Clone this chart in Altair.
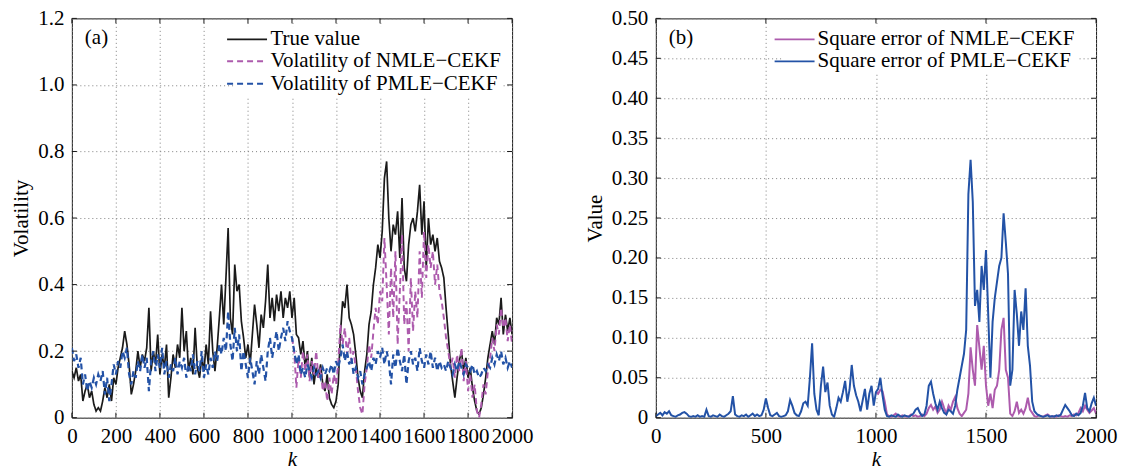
import altair as alt
import pandas as pd

STEP = 10
NMLE_START = 1000

# (a) volatility series, sampled every 10 steps of k
true_value = [
    0.14, 0.12, 0.15, 0.11, 0.13, 0.05, 0.08, 0.10, 0.06, 0.08,
    0.04, 0.02, 0.03, 0.02, 0.05, 0.09, 0.06, 0.10, 0.05, 0.12,
    0.10, 0.15, 0.18, 0.21, 0.26, 0.22, 0.16, 0.07, 0.10, 0.14,
    0.20, 0.15, 0.19, 0.17, 0.21, 0.33, 0.14, 0.20, 0.16, 0.25,
    0.13, 0.19, 0.15, 0.22, 0.06, 0.12, 0.19, 0.15, 0.22, 0.18,
    0.33, 0.20, 0.26, 0.14, 0.18, 0.13, 0.27, 0.15, 0.12, 0.18,
    0.14, 0.22, 0.16, 0.32, 0.20, 0.14, 0.21, 0.30, 0.40, 0.28,
    0.42, 0.57, 0.30, 0.25, 0.46, 0.38, 0.40, 0.29, 0.24, 0.18,
    0.22, 0.16, 0.25, 0.34, 0.28, 0.21, 0.31, 0.27, 0.35, 0.46,
    0.30, 0.36, 0.29, 0.37, 0.32, 0.38, 0.30, 0.36, 0.33, 0.38,
    0.30, 0.36, 0.25, 0.24, 0.19, 0.23, 0.15, 0.20, 0.12, 0.18,
    0.10, 0.15, 0.12, 0.16, 0.10, 0.08, 0.13, 0.06, 0.04, 0.03,
    0.05, 0.10, 0.25, 0.35, 0.33, 0.40, 0.30, 0.28, 0.25, 0.19,
    0.12, 0.08, 0.06, 0.14, 0.19, 0.28, 0.32, 0.40, 0.45, 0.52,
    0.48, 0.56, 0.72, 0.77, 0.60, 0.50, 0.58, 0.55, 0.62, 0.48,
    0.66, 0.45, 0.41, 0.52, 0.58, 0.60, 0.56, 0.62, 0.70, 0.55,
    0.65, 0.45, 0.60, 0.52, 0.55, 0.50, 0.54, 0.47, 0.45, 0.42,
    0.33, 0.25, 0.16, 0.11, 0.06, 0.12, 0.17, 0.20, 0.14, 0.18,
    0.12, 0.15, 0.09, 0.05, 0.02, 0.01, 0.03, 0.07, 0.12, 0.18,
    0.22, 0.26, 0.22, 0.30, 0.28, 0.36, 0.25, 0.31, 0.26, 0.30,
    0.25,
]
pmle_vol = [
    0.21, 0.17, 0.19, 0.15, 0.18, 0.10, 0.13, 0.08, 0.11, 0.09,
    0.12, 0.10, 0.13, 0.11, 0.14, 0.07, 0.12, 0.05, 0.10, 0.16,
    0.13, 0.17, 0.15, 0.20, 0.18, 0.21, 0.13, 0.10, 0.14, 0.12,
    0.17, 0.14, 0.19, 0.15, 0.18, 0.08, 0.17, 0.20, 0.14, 0.19,
    0.15, 0.21, 0.13, 0.17, 0.12, 0.16, 0.14, 0.18, 0.13, 0.17,
    0.15, 0.18, 0.12, 0.16, 0.14, 0.19, 0.13, 0.17, 0.14, 0.20,
    0.12, 0.16, 0.13, 0.18, 0.15, 0.20, 0.17, 0.22, 0.19, 0.24,
    0.20, 0.32, 0.22, 0.17, 0.27, 0.20, 0.25, 0.14, 0.20, 0.16,
    0.12, 0.18, 0.14, 0.10, 0.17, 0.13, 0.19, 0.15, 0.11, 0.20,
    0.24, 0.18, 0.22, 0.26, 0.20, 0.24, 0.27, 0.23, 0.29, 0.26,
    0.24, 0.20, 0.16, 0.19, 0.13, 0.15, 0.12, 0.16, 0.14, 0.12,
    0.15, 0.13, 0.14, 0.12, 0.15, 0.13, 0.15, 0.14, 0.16, 0.13,
    0.17, 0.15, 0.18, 0.22, 0.17, 0.20, 0.16, 0.18, 0.13, 0.15,
    0.12, 0.14, 0.10, 0.13, 0.15, 0.17, 0.14, 0.18, 0.16, 0.20,
    0.18, 0.21, 0.16, 0.20, 0.17, 0.10, 0.19, 0.15, 0.21, 0.17,
    0.14, 0.19, 0.10, 0.17, 0.20, 0.16, 0.18, 0.14, 0.21, 0.17,
    0.15, 0.19, 0.16, 0.20, 0.15, 0.18, 0.14, 0.17, 0.15, 0.16,
    0.14, 0.17, 0.15, 0.13, 0.16, 0.14, 0.17, 0.15, 0.13, 0.16,
    0.15, 0.14, 0.16, 0.13, 0.14, 0.12, 0.13, 0.15, 0.14, 0.16,
    0.15, 0.18, 0.16, 0.19, 0.17, 0.20, 0.16, 0.18, 0.15, 0.17,
    0.15,
]
# NMLE-CEKF volatility, visible from k = 1000
nmle_vol = [
    0.24, 0.20, 0.09, 0.18, 0.12, 0.20, 0.14, 0.19, 0.11, 0.17,
    0.13, 0.20, 0.12, 0.15, 0.08, 0.11, 0.05, 0.12, 0.07, 0.13,
    0.10, 0.16, 0.28, 0.22, 0.27, 0.19, 0.24, 0.17, 0.20, 0.15,
    0.08, 0.03, 0.01, 0.10, 0.15, 0.22, 0.18, 0.26, 0.33, 0.28,
    0.38, 0.35, 0.54, 0.40, 0.25, 0.45, 0.30, 0.50, 0.22, 0.38,
    0.55, 0.28, 0.35, 0.20, 0.42, 0.26, 0.38, 0.30, 0.50, 0.36,
    0.56, 0.42, 0.52, 0.45, 0.50, 0.40, 0.46, 0.38, 0.35, 0.30,
    0.24, 0.20, 0.15, 0.18, 0.12, 0.19, 0.14, 0.21, 0.11, 0.17,
    0.08, 0.13, 0.06, 0.10, 0.02, 0.00, 0.04, 0.10, 0.07, 0.14,
    0.18, 0.24, 0.20, 0.28, 0.25, 0.33, 0.27, 0.30, 0.23, 0.28,
    0.22,
]

# (b) square errors
se_pmle = [
    0.002, 0.004, 0.006, 0.003, 0.007, 0.005, 0.008, 0.003, 0.002, 0.001,
    0.003, 0.004, 0.006, 0.007, 0.005, 0.002, 0.001, 0.002, 0.001, 0.003,
    0.001, 0.002, 0.001, 0.010, 0.002, 0.001, 0.003, 0.002, 0.001, 0.004,
    0.002, 0.001, 0.003, 0.005, 0.008, 0.027, 0.004, 0.002, 0.001, 0.003,
    0.002, 0.004, 0.001, 0.003, 0.005, 0.002, 0.004, 0.002, 0.003, 0.010,
    0.024, 0.012, 0.003, 0.002, 0.004, 0.006, 0.002, 0.001, 0.002, 0.003,
    0.008, 0.022, 0.015, 0.006, 0.003, 0.002, 0.008, 0.018, 0.020, 0.015,
    0.050, 0.093, 0.030, 0.010, 0.003, 0.040, 0.064, 0.032, 0.044, 0.015,
    0.004, 0.001, 0.012, 0.025, 0.020, 0.032, 0.046, 0.020, 0.035, 0.066,
    0.040, 0.028, 0.020, 0.008, 0.022, 0.036, 0.010, 0.030, 0.040, 0.015,
    0.032, 0.036, 0.050, 0.028, 0.010, 0.002, 0.001, 0.003, 0.002, 0.001,
    0.004, 0.002, 0.001, 0.003, 0.002, 0.001, 0.003, 0.005, 0.010, 0.012,
    0.006, 0.002, 0.004, 0.015, 0.040, 0.045, 0.030, 0.018, 0.010, 0.020,
    0.012, 0.006, 0.004, 0.010, 0.008, 0.005, 0.015, 0.035, 0.050, 0.065,
    0.080, 0.110, 0.280, 0.323, 0.270, 0.140, 0.160, 0.120, 0.190, 0.160,
    0.210, 0.130, 0.050, 0.120, 0.150, 0.170, 0.190, 0.200, 0.256, 0.220,
    0.180, 0.040, 0.060, 0.160, 0.130, 0.090, 0.133, 0.110, 0.162, 0.090,
    0.065, 0.020, 0.008, 0.005, 0.003, 0.002, 0.001, 0.002, 0.003, 0.001,
    0.002, 0.001, 0.003, 0.002, 0.004, 0.010, 0.016, 0.012, 0.008, 0.003,
    0.002, 0.005, 0.003, 0.006, 0.015, 0.031, 0.012, 0.008, 0.018, 0.025,
    0.015,
]
se_nmle = [
    0.032, 0.030, 0.035, 0.033, 0.020, 0.004, 0.002, 0.001, 0.003, 0.005,
    0.002, 0.001, 0.003, 0.002, 0.001, 0.002, 0.004, 0.002, 0.003, 0.001,
    0.002, 0.004, 0.002, 0.005, 0.012, 0.016, 0.010, 0.014, 0.006, 0.010,
    0.020, 0.012, 0.005, 0.015, 0.010, 0.020, 0.026, 0.012, 0.005, 0.002,
    0.006, 0.010, 0.030, 0.088, 0.060, 0.040, 0.116, 0.088, 0.060, 0.090,
    0.040, 0.015, 0.030, 0.012, 0.035, 0.040, 0.060, 0.110, 0.125, 0.060,
    0.050, 0.005, 0.002, 0.008, 0.020, 0.006, 0.010, 0.005, 0.012, 0.025,
    0.010, 0.006, 0.002, 0.001, 0.003, 0.002, 0.001, 0.003, 0.004, 0.002,
    0.001, 0.002, 0.001, 0.003, 0.002, 0.001, 0.002, 0.001, 0.003, 0.002,
    0.004, 0.003, 0.006, 0.012, 0.008, 0.015, 0.010, 0.006, 0.009, 0.012,
    0.005,
]

series_a = ["True value", "Volatility of NMLE\u2212CEKF", "Volatility of PMLE\u2212CEKF"]
series_b = ["Square error of NMLE\u2212CEKF", "Square error of PMLE\u2212CEKF"]
xticks_a = [0, 200, 400, 600, 800, 1000, 1200, 1400, 1600, 1800, 2000]
yticks_a = [0, 0.2, 0.4, 0.6, 0.8, 1.0, 1.2]
xticks_b = [0, 500, 1000, 1500, 2000]
yticks_b = [0, 0.05, 0.10, 0.15, 0.20, 0.25, 0.30, 0.35, 0.40, 0.45, 0.50]

FONT = "Liberation Serif"
W, H = 441, 400
BLACK = "#1a1a1a"
PURPLE = "#ad5bad"
BLUE = "#2352a6"


def rows(name, start, vals):
    return [{"k": start + i * STEP, "v": v, "s": name} for i, v in enumerate(vals)]


df_a = pd.DataFrame(
    rows(series_a[0], 0, true_value)
    + rows(series_a[1], NMLE_START, nmle_vol)
    + rows(series_a[2], 0, pmle_vol)
)
df_b = pd.DataFrame(
    rows(series_b[0], NMLE_START, se_nmle)
    + rows(series_b[1], 0, se_pmle)
)


def legend(x, y):
    return alt.Legend(
        title=None, orient="none", legendX=x, legendY=y,
        fillColor="white", padding=2, symbolType="M-2,0H2", symbolSize=400,
        symbolStrokeWidth=1.8, labelFont=FONT, labelFontSize=21,
        labelColor="black", labelOffset=12, rowPadding=1, labelLimit=0,
    )


def make_panel(df, xticks, yticks, ydom, ytitle, yfmt, color_enc, extra_enc, label):
    xscale = alt.Scale(domain=[0, 2000], nice=False, zero=False)
    yscale = alt.Scale(domain=ydom, nice=False)
    xaxis = alt.Axis(values=xticks, title="k", format="d")
    yaxis = alt.Axis(values=yticks, title=ytitle,
                     labelExpr="datum.value == 0 ? '0' : format(datum.value, '" + yfmt + "')")
    X = alt.X("k:Q", scale=xscale, axis=xaxis)
    Y = alt.Y("v:Q", scale=yscale, axis=yaxis)

    lines = alt.Chart(df).mark_line(clip=True).encode(x=X, y=Y, color=color_enc, **extra_enc)

    tx = pd.DataFrame({"k": xticks})
    ty = pd.DataFrame({"v": yticks})
    rule = dict(color=BLACK, strokeWidth=1)
    bottom = alt.Chart(tx).mark_rule(**rule).encode(x=X, y=alt.value(H), y2=alt.value(H - 5))
    top = alt.Chart(tx).mark_rule(**rule).encode(x=X, y=alt.value(0), y2=alt.value(5))
    left = alt.Chart(ty).mark_rule(**rule).encode(y=Y, x=alt.value(0), x2=alt.value(5))
    right = alt.Chart(ty).mark_rule(**rule).encode(y=Y, x=alt.value(W), x2=alt.value(W - 5))

    lbl = alt.Chart(pd.DataFrame({"lbl": [label]})).mark_text(
        font=FONT, fontSize=21, align="left", baseline="middle", color="black"
    ).encode(x=alt.value(13), y=alt.value(20), text="lbl:N")

    return alt.layer(lines, bottom, top, left, right, lbl).properties(width=W, height=H)


chart_a = make_panel(
    df_a, xticks_a, yticks_a, [0, 1.2], "Volatility", ".1f",
    alt.Color("s:N", scale=alt.Scale(domain=series_a, range=[BLACK, PURPLE, BLUE]),
              legend=legend(162, 8)),
    dict(
        strokeDash=alt.StrokeDash("s:N", scale=alt.Scale(domain=series_a,
                                  range=[[1, 0], [6, 4], [6, 4]]), legend=legend(162, 8)),
        strokeWidth=alt.StrokeWidth("s:N", scale=alt.Scale(domain=series_a,
                                    range=[1.7, 2.2, 2.2]), legend=None),
    ),
    "(a)",
)

chart_b = make_panel(
    df_b, xticks_b, yticks_b, [0, 0.5], "Value", ".2f",
    alt.Color("s:N", scale=alt.Scale(domain=series_b, range=[PURPLE, BLUE]),
              legend=legend(126, 8)),
    dict(strokeWidth=alt.value(2.0)),
    "(b)",
)

chart = alt.hconcat(chart_a, chart_b, spacing=144, bounds="flush").resolve_scale(
    color="independent", strokeDash="independent", strokeWidth="independent"
).properties(
    padding={"left": 10, "top": 6, "right": 5, "bottom": 5}
).configure_view(
    stroke=BLACK, strokeWidth=1
).configure_axis(
    grid=True, gridColor="#808080", gridDash=[1, 3], gridWidth=1,
    domain=False, ticks=False, labelFont=FONT, labelFontSize=21, labelColor="black",
    titleFont=FONT, titleFontSize=21, titleFontWeight="normal", titleColor="black",
    labelPadding=8, labelFlush=False, labelOverlap=False,
).configure_axisX(
    titleFontStyle="italic", titlePadding=2
).configure_axisY(
    titlePadding=6
)

chart.save("out.html", embed_options={"renderer": "svg", "actions": False})
